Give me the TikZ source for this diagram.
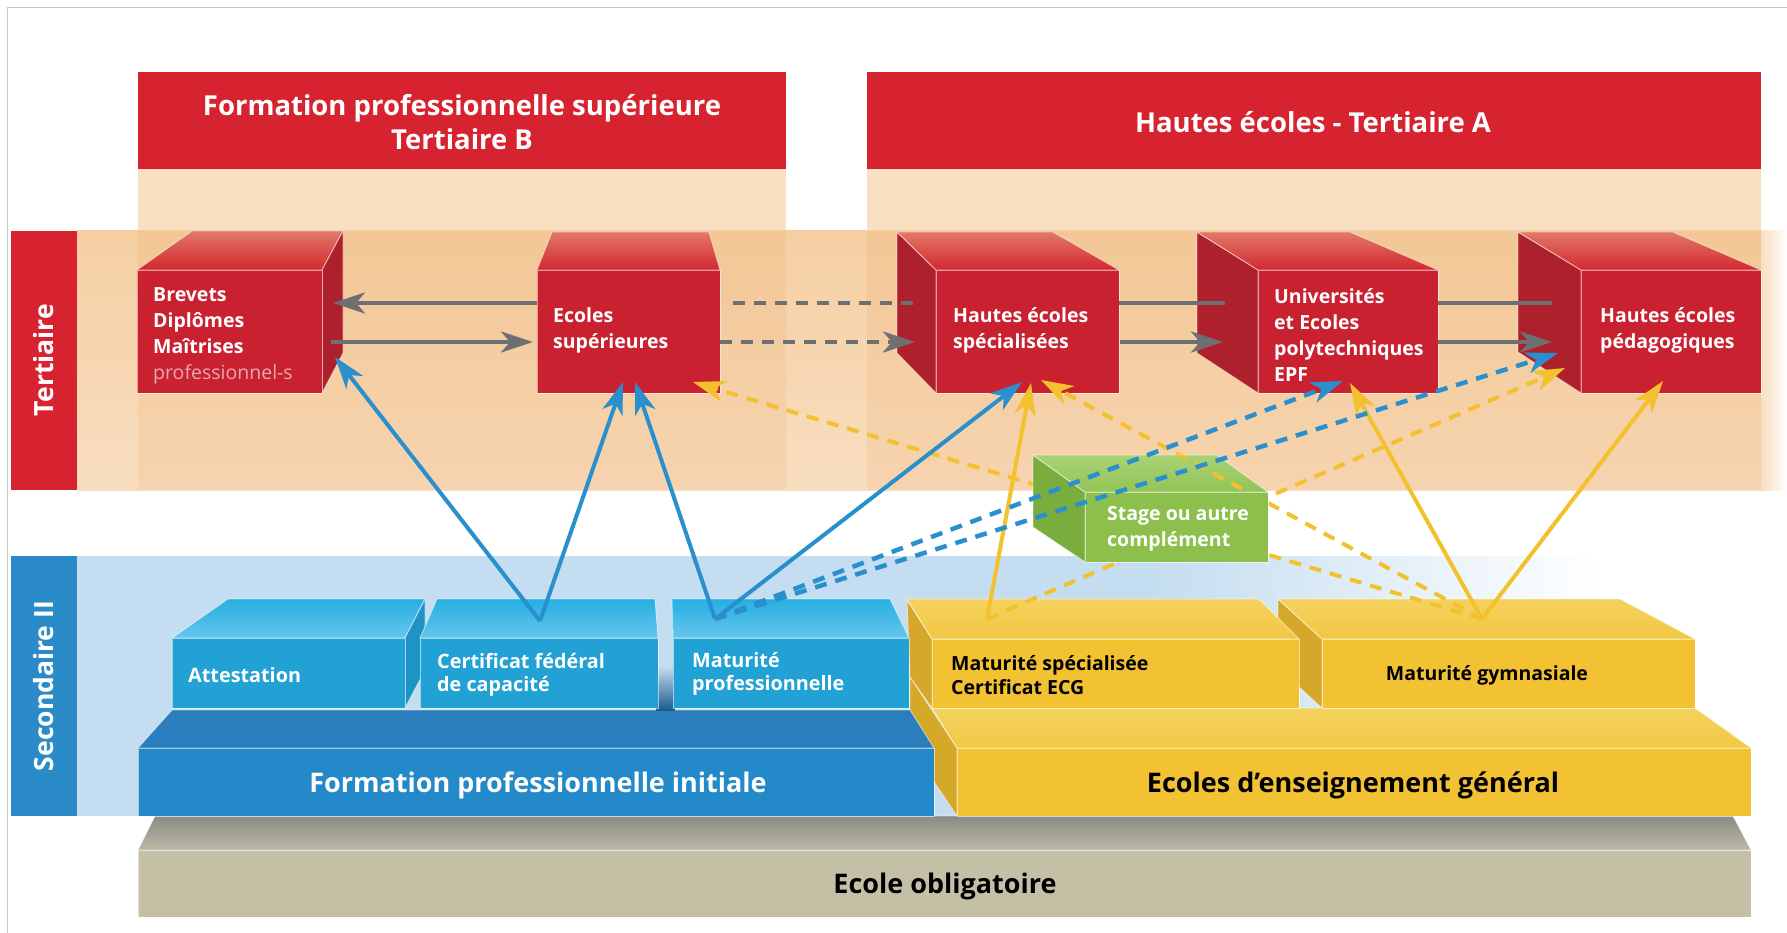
\documentclass[tikz,border=0pt]{standalone}
\usepackage{fontspec}
\setmainfont{Open Sans}
\usetikzlibrary{arrows.meta}
\definecolor{hdr}{HTML}{D7222F}
\definecolor{colpeach}{HTML}{F9E0C3}
\definecolor{bandtop}{HTML}{F5CFA2}
\definecolor{bandbot}{HTML}{F8DEC0}
\definecolor{colover}{HTML}{E8913E}
\definecolor{cubefront}{HTML}{C92130}
\definecolor{cubeside}{HTML}{AE202B}
\definecolor{cubetopb}{HTML}{E27868}
\definecolor{cubetopf}{HTML}{D3282F}
\definecolor{secband}{HTML}{C4DDF0}
\definecolor{seclabel}{HTML}{2A8BC8}
\definecolor{cyanfront}{HTML}{22A1D5}
\definecolor{cyantopb}{HTML}{26AFE2}
\definecolor{cyantopf}{HTML}{66C6EB}
\definecolor{cyanside}{HTML}{1E93C6}
\definecolor{fpifront}{HTML}{2489C9}
\definecolor{fpitop}{HTML}{2A7EBD}
\definecolor{yfront}{HTML}{F2C232}
\definecolor{ytopb}{HTML}{F5D25E}
\definecolor{ytopf}{HTML}{F2C843}
\definecolor{yside}{HTML}{D6A82A}
\definecolor{eofront}{HTML}{C3C0A6}
\definecolor{eotopb}{HTML}{8A8B86}
\definecolor{eotopf}{HTML}{BBB9A5}
\definecolor{gfront}{HTML}{8CBF4B}
\definecolor{gtopb}{HTML}{A9D274}
\definecolor{gtopf}{HTML}{93C456}
\definecolor{gside}{HTML}{79AE3F}
\definecolor{arrgray}{HTML}{6D6F73}
\definecolor{arrblue}{HTML}{2A90CD}
\definecolor{arryel}{HTML}{F3C12E}
\definecolor{lightpink}{HTML}{E6A9AD}
\definecolor{shadowblue}{HTML}{1F5C8C}
\begin{document}
\begin{tikzpicture}[x=1pt,y=-1pt,line join=round,
  edge/.style={draw=white,draw opacity=0.55,line width=0.9pt},
  hdrtxt/.style={text=white,font=\bfseries\fontsize{27.5}{34}\selectfont,align=center},
  cubetxt/.style={text=white,anchor=west,align=left,inner sep=0pt,font=\bfseries\fontsize{19.5}{26}\selectfont},
  sectxt/.style={text=white,anchor=west,align=left,inner sep=0pt,font=\bfseries\fontsize{19.8}{22.5}\selectfont},
  ytxt/.style={text=black,anchor=west,align=left,inner sep=0pt,font=\bfseries\fontsize{19.5}{24}\selectfont},
  bigtxt/.style={font=\bfseries\fontsize{27}{30}\selectfont,inner sep=0pt},
  sidelabel/.style={text=white,rotate=90,font=\bfseries\fontsize{26.5}{30}\selectfont,inner sep=0pt},
  tipstyle/.style={-{Stealth[length=32pt,width=21pt,inset=9pt]}},
  gline/.style={draw=arrgray,line width=4.5pt},
  bline/.style={draw=arrblue,line width=4pt},
  yline/.style={draw=arryel,line width=4pt},
  dashpat/.style={dash pattern=on 12pt off 9pt}
]
\useasboundingbox (0,0) rectangle (1787,933);
\fill[white] (0,0) rectangle (1787,933);
\draw[black!22,line width=1pt] (7,933) -- (7,8) -- (1787,8);

% headers and columns
\fill[hdr] (138,72) rectangle (786,169);
\fill[hdr] (867,72) rectangle (1761,169);
\node[hdrtxt] (hdrB) at (462,122) {Formation professionnelle supérieure\\Tertiaire B};
\node[hdrtxt] (hdrA) at (1313,122) {Hautes écoles - Tertiaire A};
\fill[colpeach] (138,169) rectangle (786,231);
\fill[colpeach] (867,169) rectangle (1761,231);

% Tertiaire band
\shade[top color=bandtop,bottom color=bandbot] (77,231) rectangle (1761,490);
\shade[left color=bandbot,right color=white] (1761,231) rectangle (1787,490);
\fill[colover,opacity=0.12] (138,231) rectangle (786,490);
\fill[colover,opacity=0.12] (867,231) rectangle (1761,490);
\fill[hdr] (11,231) rectangle (77,490);
\node[sidelabel] (lblT) at (44,360) {Tertiaire};

% Secondaire band
\fill[secband] (77,556) rectangle (1150,816);
\shade[left color=secband,right color=white] (1150,556) rectangle (1600,816);
\fill[seclabel] (11,556) rectangle (77,816);
\node[sidelabel] (lblS) at (44,686) {Secondaire II};

% Ecole obligatoire
\shadedraw[top color=eotopb,bottom color=eotopf,edge] (155,816) -- (1733,816) -- (1751,850) -- (138,850) -- cycle;
\filldraw[fill=eofront,edge] (138,850) rectangle (1751,917);
\node[bigtxt,text=black] (eo) at (945,886) {Ecole obligatoire};

% Ecoles d'enseignement general
\filldraw[fill=yside,edge] (910,677) -- (957,748) -- (957,816) -- (910,746) -- cycle;
\shadedraw[top color=ytopb,bottom color=ytopf,edge] (932,708) -- (1695,708) -- (1751,748) -- (957,748) -- cycle;
\filldraw[fill=yfront,edge] (957,748) rectangle (1751,816);
\node[bigtxt,text=black] (eeg) at (1353,785) {Ecoles d’enseignement général};

% Formation professionnelle initiale
\filldraw[fill=fpitop,edge] (172,710) -- (910,710) -- (934,748) -- (138,748) -- cycle;
\filldraw[fill=fpifront,edge] (138,748) rectangle (934,816);
\node[bigtxt,text=white] (fpi) at (538,785) {Formation professionnelle initiale};

% upper yellow blocks
\filldraw[fill=yside,edge] (1278,599) -- (1322,639) -- (1322,708) -- (1278,668) -- cycle;
\shadedraw[top color=ytopb,bottom color=ytopf,edge] (1278,599) -- (1620,599) -- (1695,639) -- (1322,639) -- cycle;
\filldraw[fill=yfront,edge] (1322,639) rectangle (1695,708);
\node[bigtxt,text=black,font=\bfseries\fontsize{19.5}{22}\selectfont] (gym) at (1487,675) {Maturité gymnasiale};

\filldraw[fill=yside,edge] (907,600) -- (932,639) -- (932,708) -- (910,677) -- cycle;
\shadedraw[top color=ytopb,bottom color=ytopf,edge] (907,599) -- (1259,599) -- (1299,639) -- (932,639) -- cycle;
\filldraw[fill=yfront,edge] (932,639) rectangle (1299,708);
\node[ytxt] (msp) at (951,675) {Maturité spécialisée\\Certificat ECG};

% upper blue blocks
\shade[top color=secband,bottom color=shadowblue] (656,666) rectangle (675,710);
\shadedraw[top color=cyantopb,bottom color=cyantopf,edge] (228,599) -- (425,599) -- (405,638) -- (172,638) -- cycle;
\filldraw[fill=cyanside,edge] (425,599) -- (405,638) -- (405,708) -- (425,670) -- cycle;
\filldraw[fill=cyanfront,edge] (172,638) rectangle (405,708);
\node[sectxt] (att) at (188,675) {Attestation};

\shadedraw[top color=cyantopb,bottom color=cyantopf,edge] (437,599) -- (655,599) -- (658,638) -- (420,638) -- cycle;
\filldraw[fill=cyanfront,edge] (420,638) rectangle (658,708);
\node[sectxt] (cfc) at (437,675) {Certificat fédéral\\de capacité};

\shadedraw[top color=cyantopb,bottom color=cyantopf,edge] (672,599) -- (890,599) -- (909,638) -- (673,638) -- cycle;
\filldraw[fill=cyanfront,edge] (673,638) rectangle (909,708);
\node[sectxt] (mp) at (692,674) {Maturité\\professionnelle};

% red cubes
\shadedraw[top color=cubetopb,bottom color=cubetopf,edge] (137,270) -- (192,231) -- (343,231) -- (322,270) -- cycle;
\filldraw[fill=cubeside,edge] (322,270) -- (343,231) -- (343,353) -- (322,393) -- cycle;
\filldraw[fill=cubefront,edge] (137,270) rectangle (322,393);
\node[cubetxt] (brevets) at (153,336) {Brevets\\Diplômes\\Maîtrises\\{\mdseries\color{lightpink}professionnel-s}};

\shadedraw[top color=cubetopb,bottom color=cubetopf,edge] (537,270) -- (552,232) -- (709,232) -- (720,270) -- cycle;
\filldraw[fill=cubefront,edge] (537,270) rectangle (720,393);
\node[cubetxt] (ecsup) at (553,330) {Ecoles\\supérieures};

\filldraw[fill=cubeside,edge] (897,232) -- (936,270) -- (936,393) -- (897,353) -- cycle;
\shadedraw[top color=cubetopb,bottom color=cubetopf,edge] (897,232) -- (1053,232) -- (1119,270) -- (936,270) -- cycle;
\filldraw[fill=cubefront,edge] (936,270) rectangle (1119,393);
\node[cubetxt] (hes) at (953,330) {Hautes écoles\\spécialisées};

\filldraw[fill=cubeside,edge] (1197,232) -- (1258,270) -- (1258,393) -- (1197,353) -- cycle;
\shadedraw[top color=cubetopb,bottom color=cubetopf,edge] (1197,232) -- (1350,232) -- (1438,270) -- (1258,270) -- cycle;
\filldraw[fill=cubefront,edge] (1258,270) rectangle (1438,393);
\node[cubetxt] (uni) at (1274,335) {Universités\\et Ecoles\\polytechniques\\EPF};

\filldraw[fill=cubeside,edge] (1518,232) -- (1581,270) -- (1581,393) -- (1518,352) -- cycle;
\shadedraw[top color=cubetopb,bottom color=cubetopf,edge] (1518,232) -- (1673,232) -- (1761,270) -- (1581,270) -- cycle;
\filldraw[fill=cubefront,edge] (1581,270) rectangle (1761,393);
\node[cubetxt] (hep) at (1600,330) {Hautes écoles\\pédagogiques};

% connector end points
\coordinate (g1s) at (537,303); \coordinate (g1e) at (333,303);
\coordinate (g2s) at (331,342); \coordinate (g2e) at (533,342);
\coordinate (g3s) at (733,303); \coordinate (g3e) at (917,303);
\coordinate (g4s) at (720,342); \coordinate (g4e) at (915,342);
\coordinate (g5s) at (1119,303); \coordinate (g5e) at (1225,303);
\coordinate (g6s) at (1120,342); \coordinate (g6e) at (1223,342);
\coordinate (g7s) at (1438,303); \coordinate (g7e) at (1552,303);
\coordinate (g8s) at (1438,342); \coordinate (g8e) at (1552,342);
\coordinate (pCFC) at (540,621); \coordinate (pMP) at (715,619);
\coordinate (pMS) at (987,619); \coordinate (pGYM) at (1482,619);
\coordinate (tBrv) at (335,357);
\coordinate (tES1) at (623,382); \coordinate (tES2) at (635,382);
\coordinate (tHESb) at (1022,382);
\coordinate (tUNIb) at (1343,381);
\coordinate (tHEPb) at (1558,353);
\coordinate (tHESy1) at (1031,383); \coordinate (tHESy2) at (1041,380);
\coordinate (tESy) at (693,382);
\coordinate (tHEPy1) at (1565,368);
\coordinate (tUNIy) at (1350,383);
\coordinate (tHEPy2) at (1663,381);

% gray connectors
\draw[gline,tipstyle] (g1s) -- (g1e);
\draw[gline,tipstyle] (g2s) -- (g2e);
\draw[gline,dashpat] (g3s) -- (g3e);
\draw[gline,dashpat,tipstyle] (g4s) -- (g4e);
\draw[gline] (g5s) -- (g5e);
\draw[gline,tipstyle] (g6s) -- (g6e);
\draw[gline] (g7s) -- (g7e);
\draw[gline,tipstyle] (g8s) -- (g8e);

% yellow connectors
\draw[yline,tipstyle] (pMS) -- (tHESy1);
\draw[yline,dashpat,tipstyle] (pMS) -- (tHEPy1);
\draw[yline,dashpat,tipstyle] (pGYM) -- (tESy);
\draw[yline,dashpat,tipstyle] (pGYM) -- (tHESy2);
\draw[yline,tipstyle] (pGYM) -- (tUNIy);
\draw[yline,tipstyle] (pGYM) -- (tHEPy2);

% blue solid connectors
\draw[bline,tipstyle] (pCFC) -- (tBrv);
\draw[bline,tipstyle] (pCFC) -- (tES1);
\draw[bline,tipstyle] (pMP) -- (tES2);
\draw[bline,tipstyle] (pMP) -- (tHESb);

% stage box
\filldraw[fill=gside,edge] (1033,455) -- (1085,492) -- (1085,562) -- (1033,527) -- cycle;
\shadedraw[top color=gtopb,bottom color=gtopf,edge] (1033,455) -- (1217,455) -- (1268,492) -- (1085,492) -- cycle;
\filldraw[fill=gfront,edge] (1085,492) rectangle (1268,562);
\node[cubetxt] (stage) at (1107,529) {Stage ou autre\\complément};
\begin{scope}
  \clip (1033,455) -- (1217,455) -- (1268,492) -- (1085,492) -- cycle;
  \draw[yline,dashpat] (pGYM) -- (tHESy2);
\end{scope}

% blue dashed connectors
\draw[bline,line width=4.5pt,dashpat,tipstyle] (pMP) -- (tUNIb);
\draw[bline,line width=4.5pt,dashpat,tipstyle] (pMP) -- (tHEPb);
\end{tikzpicture}
\end{document}
